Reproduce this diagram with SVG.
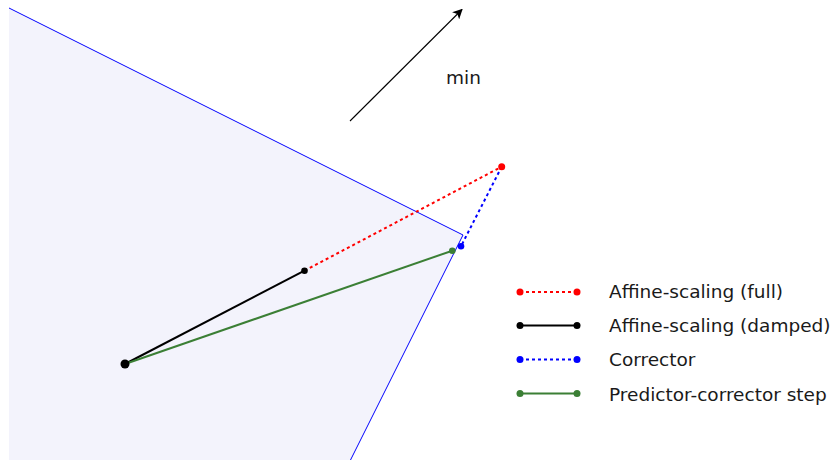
<svg xmlns="http://www.w3.org/2000/svg" width="836" height="460" viewBox="0 0 836 460">
<style>
text{font-family:"DejaVu Sans",sans-serif;font-size:18.5px;fill:#1a1a1a}
.dash{stroke-dasharray:3,3}
</style>
<defs>
<marker id="ah" viewBox="0 0 10 10" refX="9" refY="5" markerWidth="10" markerHeight="10" markerUnits="userSpaceOnUse" orient="auto"><path d="M0,0 L10,5 L0,10 L2.5,5 Z" fill="#000"/></marker>
</defs>
<g id="feasible-region"><polygon points="9,8 463,235 350.5,460 9,460" fill="#f3f3fc" stroke="none"/><polyline points="9,8 463,235 350.5,460" fill="none" stroke="#0000ff" stroke-width="1"/></g>
<g id="objective"><line x1="350" y1="121" x2="462" y2="9.5" stroke="#000" stroke-width="1.1" marker-end="url(#ah)"/><text x="446" y="84">min</text></g>
<g id="connectors" fill="none" stroke-width="2">
<line x1="304.5" y1="270.7" x2="501.7" y2="166.7" stroke="#ff0000" class="dash"/>
<line x1="501.7" y1="166.7" x2="461" y2="246.3" stroke="#0000ff" class="dash"/>
<line x1="125" y1="364" x2="304.5" y2="270.7" stroke="#000"/>
<line x1="125" y1="364" x2="452.3" y2="250.7" stroke="#3b7f35"/>
</g>
<g id="points">
<circle cx="125" cy="364" r="4.5" fill="#000"/>
<circle cx="304.5" cy="270.7" r="3.3" fill="#000"/>
<circle cx="501.7" cy="166.7" r="3.5" fill="#ff0000"/>
<circle cx="461" cy="246.3" r="3.3" fill="#0000ff"/>
<circle cx="452.3" cy="250.7" r="3.3" fill="#3b7f35"/>
</g>
<g id="legend" stroke-width="2">
<g id="legend-full"><line x1="520" y1="292" x2="577" y2="292" stroke="#ff0000" class="dash"/><circle cx="520" cy="292" r="3.5" fill="#ff0000" stroke="none"/><circle cx="577" cy="292" r="3.5" fill="#ff0000" stroke="none"/><text x="609" y="298">Affine-scaling (full)</text></g>
<g id="legend-damped"><line x1="520" y1="325.5" x2="577" y2="325.5" stroke="#000"/><circle cx="520" cy="325.5" r="3.5" fill="#000" stroke="none"/><circle cx="577" cy="325.5" r="3.5" fill="#000" stroke="none"/><text x="609" y="332">Affine-scaling (damped)</text></g>
<g id="legend-corrector"><line x1="520" y1="359.5" x2="577" y2="359.5" stroke="#0000ff" class="dash"/><circle cx="520" cy="359.5" r="3.5" fill="#0000ff" stroke="none"/><circle cx="577" cy="359.5" r="3.5" fill="#0000ff" stroke="none"/><text x="609" y="366">Corrector</text></g>
<g id="legend-pc"><line x1="520" y1="393.5" x2="577" y2="393.5" stroke="#3b7f35"/><circle cx="520" cy="393.5" r="3.5" fill="#3b7f35" stroke="none"/><circle cx="577" cy="393.5" r="3.5" fill="#3b7f35" stroke="none"/><text x="609" y="400.5">Predictor-corrector step</text></g>
</g>
</svg>
